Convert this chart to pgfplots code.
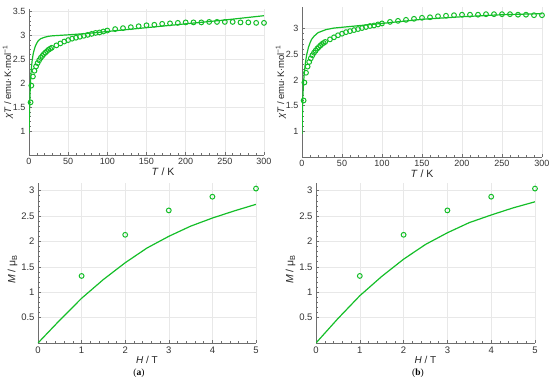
\documentclass[border=0pt]{standalone}
\usepackage{pgfplots}
\pgfplotsset{compat=1.18}
\usepackage{fontspec}
\setmainfont{Liberation Sans}
\newfontfamily\capfont{Liberation Serif}
\definecolor{fitgreen}{RGB}{20,190,40}
\definecolor{axgray}{RGB}{110,110,110}
\pgfplotstableread{
T chi
2 1.60
3 1.95
5 2.14
7 2.26
9 2.35
11 2.42
13 2.48
15 2.53
17 2.57
19 2.61
21 2.64
23 2.67
25 2.70
27 2.72
29 2.74
35 2.79
40 2.83
45 2.87
50 2.90
55 2.93
60 2.95
65 2.97
70 2.99
75 3.01
80 3.03
85 3.05
90 3.06
95 3.08
100 3.10
110 3.13
120 3.15
130 3.17
140 3.19
150 3.21
160 3.22
170 3.24
180 3.25
190 3.26
200 3.27
210 3.27
220 3.27
230 3.28
240 3.28
250 3.28
260 3.28
270 3.27
280 3.27
290 3.26
300 3.26
}\chidata
\pgfplotstableread{
T chi
0 0.95
0.5 1.30
1 1.60
1.5 1.85
2 2.05
3 2.30
4 2.47
5 2.58
6 2.66
8 2.77
10 2.84
12 2.89
15 2.93
20 2.96
25 2.98
30 2.99
40 3.00
50 3.01
75 3.04
100 3.08
150 3.16
200 3.24
250 3.32
300 3.41
}\chifitA
\pgfplotstableread{
T chi
0 0.95
0.5 1.35
1 1.65
2 1.97
3 2.15
4 2.30
5 2.41
6 2.50
8 2.63
10 2.72
12 2.79
15 2.85
20 2.92
25 2.95
30 2.98
40 3.01
60 3.04
80 3.07
100 3.10
150 3.18
200 3.23
250 3.27
300 3.29
}\chifitB
\pgfplotstableread{
H M
1 1.32
2 2.13
3 2.61
4 2.88
5 3.04
}\mdata
\pgfplotstableread{
H M
0 0
0.5 0.45
1 0.88
1.5 1.25
2 1.58
2.5 1.87
3 2.10
3.5 2.30
4 2.46
4.5 2.60
5 2.73
}\mfitA
\pgfplotstableread{
H M
0 0
0.5 0.48
1 0.93
1.5 1.31
2 1.65
2.5 1.94
3 2.17
3.5 2.37
4 2.52
4.5 2.66
5 2.78
}\mfitB
\pgfplotsset{
  magstyle/.style={
    scale only axis,
    axis lines=left,
    axis line style={-, draw=axgray, line width=0.7pt},
    grid=major,
    major grid style={draw=black!9, line width=0.5pt},
    tick style={draw=axgray, line width=0.5pt},
    minor tick num=4,
    tick align=inside,
    major tick length=3pt,
    minor tick length=1.8pt,
    tick label style={font=\fontsize{9}{10}\selectfont, text=black!80},
    /pgf/number format/assume math mode=true,
    label style={font=\fontsize{10.5}{12}\selectfont, text=black!85},
    xlabel style={yshift=4pt},
  },
  topstyle/.style={
    ylabel style={font=\fontsize{9.5}{11}\selectfont, yshift=-7pt},
  },
  botstyle/.style={
    tick label style={font=\fontsize{9.5}{11}\selectfont},
    ylabel style={yshift=-3pt, at={(ticklabel cs:0.46)}},
    xlabel style={font=\fontsize{10}{11}\selectfont},
  },
  datastyle/.style={only marks, mark=o, mark size=2.4pt, color=fitgreen, mark options={line width=1pt}},
  fitstyle/.style={no marks, color=fitgreen, line width=1.2pt},
}
\begin{document}
\begin{tikzpicture}
\useasboundingbox (0,0) rectangle (550pt,382pt);
% top left
\begin{axis}[magstyle, topstyle, at={(29pt,227pt)}, anchor=south west,
  width=235pt, height=146pt,
  xmin=0, xmax=300, ymin=0.5, ymax=3.55,
  xtick={0,50,...,300}, ytick={1,1.5,2,2.5,3,3.5},
  xlabel={\textit{T} / K}, ylabel={\textit{χT} / emu·K·mol\textsuperscript{−1}},
  xlabel style={at={(ticklabel cs:0.57)}}]
\addplot[fitstyle] table[x=T,y=chi] {\chifitA};
\addplot[datastyle] table[x=T,y=chi] {\chidata};
\end{axis}
% top right
\begin{axis}[magstyle, topstyle, at={(302pt,225pt)}, anchor=south west,
  width=240pt, height=150pt,
  xmin=0, xmax=300, ymin=0.5, ymax=3.42,
  xtick={0,50,...,300}, ytick={1,1.5,2,2.5,3},
  xlabel={\textit{T} / K}, ylabel={\textit{χT} / emu·K·mol\textsuperscript{−1}}]
\addplot[fitstyle] table[x=T,y=chi] {\chifitB};
\addplot[datastyle] table[x=T,y=chi] {\chidata};
\end{axis}
% bottom left
\begin{axis}[magstyle, botstyle, at={(38pt,39pt)}, anchor=south west,
  width=218pt, height=160pt,
  xmin=0, xmax=5, ymin=0, ymax=3.15,
  xtick={0,1,...,5}, ytick={0.5,1,1.5,2,2.5,3},
  xlabel={\textit{H} / T}, ylabel={\textit{M} / μ\textsubscript{B}}]
\addplot[fitstyle] table[x=H,y=M] {\mfitA};
\addplot[datastyle] table[x=H,y=M] {\mdata};
\end{axis}
% bottom right
\begin{axis}[magstyle, botstyle, at={(316pt,39pt)}, anchor=south west,
  width=219pt, height=160pt,
  xmin=0, xmax=5, ymin=0, ymax=3.15,
  xtick={0,1,...,5}, ytick={0.5,1,1.5,2,2.5,3},
  xlabel={\textit{H} / T}, ylabel={\textit{M} / μ\textsubscript{B}}]
\addplot[fitstyle] table[x=H,y=M] {\mfitB};
\addplot[datastyle] table[x=H,y=M] {\mdata};
\end{axis}
\node[font=\capfont\fontsize{9.5}{11}\selectfont] at (139pt,9pt) {(\textbf{a})};
\node[font=\capfont\fontsize{9.5}{11}\selectfont] at (418pt,9pt) {(\textbf{b})};
\end{tikzpicture}
\end{document}
